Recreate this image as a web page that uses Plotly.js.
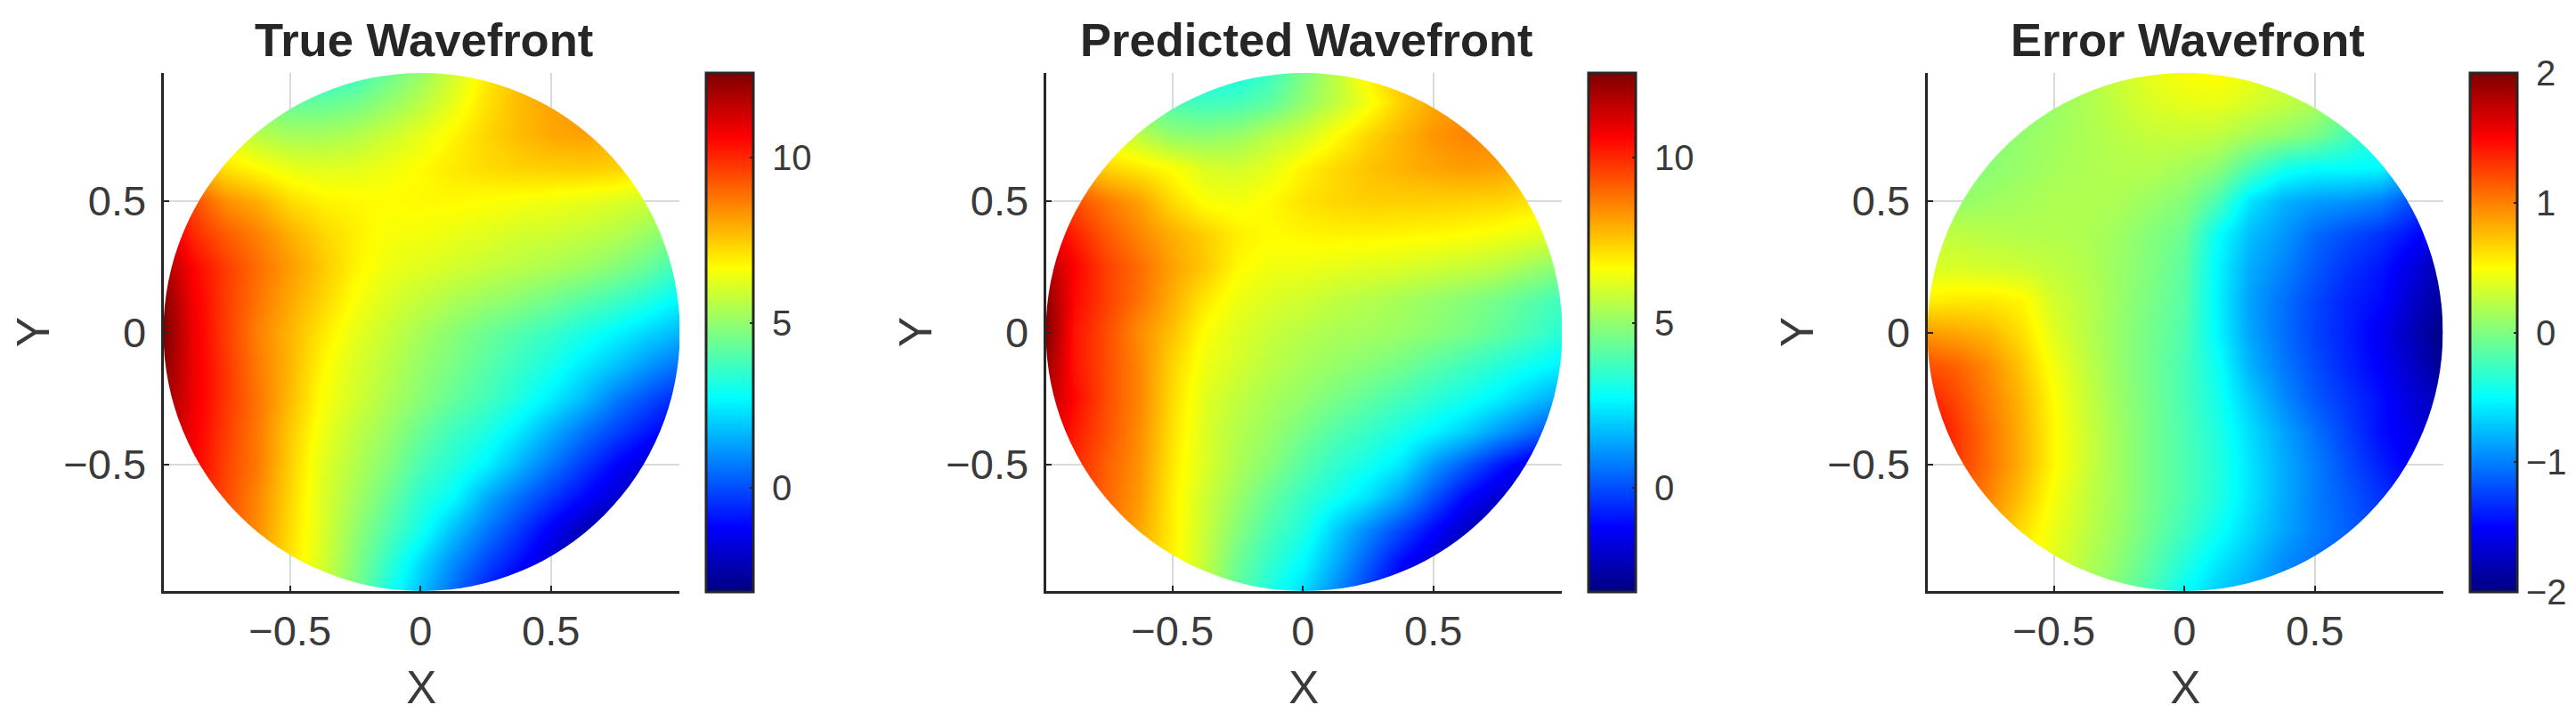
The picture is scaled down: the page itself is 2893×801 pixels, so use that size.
<!DOCTYPE html>
<html><head><meta charset="utf-8">
<script src="https://cdn.plot.ly/plotly-3.0.1.min.js"></script>
<style>html,body{margin:0;padding:0;background:#fff}</style></head>
<body><div id="chart" style="width:2893px;height:801px"></div>
<script>
const xGrid=[-1,-.875,-.75,-.625,-.5,-.375,-.25,-.125,0,.125,.25,.375,.5,.625,.75,.875,1];
const yGrid=[-1,-.875,-.75,-.625,-.5,-.375,-.25,-.125,0,.125,.25,.375,.5,.625,.75,.875,1];
const trueZ=[
[10.6,9.7,9.0,8.1,7.0,5.9,4.6,3.1,1.7,.4,-.8,-1.8,-2.8,-3.1,-3.15,-3.15,-3.15],
[11,10,9.2,8.2,7.1,6,4.8,3.5,2.2,1,-.1,-1,-2,-2.9,-3.1,-3.15,-3.15],
[11.4,10.3,9.4,8.4,7.2,6.1,5,4,3,1.8,.7,-.3,-1.3,-2.3,-3,-3.1,-3.15],
[11.7,10.5,9.5,8.5,7.3,6.1,5.3,4.4,3.4,2.75,1.5,.55,-.3,-1.1,-1.9,-2.6,-3],
[12,10.7,9.6,8.7,7.4,6.2,5.5,4.8,3.9,3.3,2.6,1.6,.65,-.3,-1.18,-1.9,-2.6],
[12,10.8,9.7,8.7,7.5,6.4,5.7,5.1,4.35,3.7,3.2,2.4,1.5,.6,-.2,-.9,-1.6],
[12.3,10.9,9.8,8.8,7.7,6.6,6,5.4,4.85,4.3,3.8,3.2,2.5,1.7,.7,0,-.7],
[12.6,10.9,9.8,8.7,7.8,6.75,6.1,5.6,5.05,4.6,4.1,3.6,3.1,2.4,1.8,1.1,.5],
[12.8,10.9,9.7,8.6,7.8,7,6.3,5.8,5.3,4.85,4.4,4,3.6,3.1,2.6,2.1,1.6],
[12.6,10.8,9.7,8.8,8,7.3,6.6,6.1,5.75,5.4,5.1,4.85,4.5,4.1,3.7,3.2,2.6],
[12.2,10.6,9.7,8.9,8.2,7.5,6.85,6.4,6.2,6,5.8,5.6,5.4,5.15,4.8,4.3,3.6],
[11.5,10,9.2,8.6,7.9,7.3,6.9,6.55,6.5,6.35,6.2,6,5.9,5.75,5.5,5.1,4.6],
[11,9.5,8.4,7.9,7.2,6.85,6.75,6.7,6.75,6.75,6.65,6.55,6.45,6.3,6.15,5.9,5.5],
[9,7.9,7.1,6.7,6.35,6.2,6.25,6.45,6.7,7,7.2,7.35,7.4,7.45,7.35,7.1,6.7],
[7.5,7,6.2,5.6,5.3,5.3,5.5,5.9,6.3,6.8,7.3,7.7,8,8.1,8,7.6,7],
[5.5,5.2,5,4.6,4.3,4.3,4.5,5,5.6,6.3,7.1,7.7,8.1,8.4,8.5,8.3,8],
[4.5,4.2,4,3.6,3.3,3.2,3.5,4.3,5,5.9,6.9,7.7,8.3,8.6,8.8,8.7,8.5]];
const predZ=[
[9.8,9.1,8.4,7.6,6.8,5.6,4.2,3.1,2.1,.9,-.4,-1.7,-2.8,-3.1,-3.15,-3.15,-3.15],
[10.2,9.4,8.6,7.8,6.9,5.7,4.4,3.5,2.7,1.5,.2,-1.1,-2,-2.9,-3.1,-3.15,-3.15],
[10.5,9.7,8.9,8,6.9,5.8,4.8,3.9,3.2,2,.9,-.1,-1.1,-2.1,-2.8,-3.1,-3.15],
[10.8,9.9,9,8.2,6.9,5.9,5.1,4.3,3.6,3,2.3,1.3,.1,-1.1,-1.9,-2.6,-3],
[11.1,10,9.1,8.3,7,6.1,5.4,4.8,4.1,3.5,3,2.4,1.15,.2,-.8,-1.6,-2.2],
[11.5,10.2,9.3,8.4,7.1,6.1,5.5,5.1,4.55,4,3.6,3.1,2.6,2,1.2,.5,-.2],
[11.9,10.5,9.4,8.5,7.2,6.2,5.7,5.3,5,4.6,4.2,3.8,3.4,3,2.5,1.9,1.3],
[12.4,10.3,9.4,8.5,7.3,6.4,6,5.6,5.3,5.05,4.8,4.5,4.1,3.7,3.3,2.9,2.5],
[12.8,10.3,9.4,8.4,7.6,6.6,6.15,5.8,5.55,5.35,5.25,5.1,4.85,4.6,4.2,3.8,3.3],
[12.6,10.5,9.6,8.8,7.9,7,6.4,6.1,5.95,5.7,5.5,5.3,5.05,4.8,4.5,4.1,3.7],
[12,10.6,9.6,8.9,8.1,7.5,6.75,6.45,6.4,6.3,6.2,6.1,5.95,5.8,5.6,5.2,4.8],
[11.2,10.1,9.2,8.5,7.9,7.4,6.9,6.7,6.8,6.85,6.85,6.8,6.75,6.65,6.5,6.3,6.2],
[10.2,9.4,8.7,8.1,7.2,6.6,6.5,6.75,7.1,7.3,7.4,7.4,7.4,7.35,7.3,7.1,6.8],
[8.8,8,7.3,7,6.65,6.1,6,6.3,6.85,7.25,7.6,7.85,8.05,8.2,8.1,7.8,7.4],
[7.5,6.8,6.3,5.6,5,4.9,5.1,5.6,6,6.65,7.3,7.8,8.3,8.55,8.5,8.3,8],
[6,5.5,5,4.4,3.9,3.7,3.8,4.2,5,5.7,6.5,7.4,8,8.4,8.6,8.5,8.3],
[5,4.5,4,3.5,3.2,3,3,3.6,4.6,5.6,6.9,7.7,8.2,8.5,8.6,8.5,8.3]];
const errZ=[
[1.1,.9,.7,.5,.32,.15,-.02,-.25,-.5,-.7,-.85,-1,-1.1,-1.2,-1.25,-1.3,-1.35],
[1.2,1,.8,.55,.38,.2,.05,-.15,-.37,-.58,-.75,-.95,-1.05,-1.15,-1.25,-1.3,-1.4],
[1.3,1.1,.88,.63,.42,.25,.1,-.08,-.25,-.45,-.65,-.85,-1,-1.12,-1.25,-1.35,-1.5],
[1.4,1.2,.98,.73,.46,.27,.12,-.05,-.2,-.37,-.6,-.82,-1,-1.15,-1.3,-1.45,-1.6],
[1.5,1.28,1.05,.8,.52,.3,.12,-.05,-.2,-.36,-.6,-.82,-1,-1.2,-1.38,-1.55,-1.7],
[1.6,1.3,1.05,.8,.52,.3,.12,-.05,-.2,-.38,-.63,-.85,-1.05,-1.25,-1.45,-1.6,-1.75],
[1.4,1.22,1,.78,.5,.28,.1,-.05,-.22,-.42,-.7,-.95,-1.15,-1.3,-1.45,-1.65,-1.8],
[1.2,1.12,.95,.72,.45,.25,.08,-.06,-.22,-.45,-.8,-1.02,-1.2,-1.36,-1.52,-1.72,-1.95],
[.9,.85,.78,.62,.38,.22,.08,-.05,-.19,-.52,-.85,-1.06,-1.24,-1.38,-1.55,-1.78,-2],
[.55,.58,.58,.53,.32,.22,.1,-.03,-.16,-.53,-.87,-1.05,-1.22,-1.37,-1.47,-1.7,-1.92],
[.35,.35,.33,.3,.25,.2,.1,0,-.14,-.52,-.82,-.98,-1.15,-1.3,-1.42,-1.62,-1.85],
[.25,.25,.22,.2,.2,.18,.12,.02,-.08,-.47,-.75,-.9,-1.08,-1.2,-1.3,-1.45,-1.6],
[.05,.08,.12,.15,.18,.19,.17,.1,.02,-.2,-.6,-.8,-.88,-.92,-1,-1.2,-1.6],
[0,.02,.05,.1,.15,.18,.2,.2,.14,.05,-.2,-.42,-.5,-.5,-.52,-.8,-1.2],
[-.1,0,.03,.08,.13,.18,.23,.27,.28,.25,.15,.07,-.02,-.22,-.4,-.7,-1],
[-.1,-.05,0,.02,.1,.18,.27,.36,.4,.42,.34,.27,.18,0,-.2,-.5,-.8],
[-.2,-.15,-.1,0,.1,.2,.3,.42,.5,.52,.45,.3,.1,-.1,-.3,-.5,-.7]];
const panelTitles=['True Wavefront','Predicted Wavefront','Error Wavefront'];
const xTicks=[-0.5,0,0.5], yTicks=[-0.5,0,0.5];
const trueRange=[-3.15,12.56], predRange=[-3.15,12.56], errRange=[-2,2];
const trueBarTicks=[0,5,10], errBarTicks=[-2,-1,0,1,2];
const trueBarLabels=['\u00a00','\u00a05','\u00a010'];
const errBarLabels=['\u22122','\u22121','\u00a00','\u00a01','\u00a02'];
const jet=[[0,'#00007f'],[.125,'#0000ff'],[.375,'#00ffff'],[.625,'#ffff00'],[.875,'#ff0000'],[1,'#7f0000']];

const W=2893,H=801,FONT='Arial, "Liberation Sans", sans-serif',INK='#3a3a3a';
const lefts=[183.5,1174.5,2164.5],pw=579.5,plotTop=82,plotBot=664,barOff=609,barW=53;
const zs=[trueZ,predZ,errZ],ranges=[trueRange,predRange,errRange],bars=[trueBarTicks,trueBarTicks,errBarTicks],barText=[trueBarLabels,trueBarLabels,errBarLabels];
const data=[],layout={width:W,height:H,margin:{l:0,r:0,t:0,b:0},paper_bgcolor:'#fff',plot_bgcolor:'#fff',showlegend:false,annotations:[]};
const axis=(ticks,title,standoff,lab,rng)=>({range:rng,tickmode:'array',tickvals:ticks,showgrid:true,gridcolor:'#d9d9d9',gridwidth:2,
  zeroline:false,showline:true,linecolor:'#262626',linewidth:3,ticks:'inside',ticklen:6,tickwidth:2,tickcolor:'#262626',
  tickfont:{family:FONT,size:47,color:INK},ticklabelstandoff:lab,title:{text:title,font:{family:FONT,size:51,color:INK},standoff:standoff}});
lefts.forEach((l,i)=>{
  const s=i?String(i+1):'';
  data.push({type:'heatmap',x:xGrid,y:yGrid,z:zs[i],zsmooth:'best',xaxis:'x'+s,yaxis:'y'+s,zmin:ranges[i][0],zmax:ranges[i][1],
    colorscale:jet,hoverinfo:'skip',
    colorbar:{x:(l+barOff)/W,xanchor:'left',xpad:0,y:(H-plotBot-1)/H,yanchor:'bottom',ypad:0,len:(plotBot+1-plotTop)/H,lenmode:'fraction',
      thickness:barW,thicknessmode:'pixels',outlinewidth:3,outlinecolor:'#262626',borderwidth:0,
      tickmode:'array',tickvals:bars[i],ticktext:barText[i],ticks:'inside',ticklen:5,tickwidth:2,tickcolor:'#262626',
      tickfont:{family:FONT,size:40,color:INK}}});
  layout['xaxis'+s]=Object.assign(axis(xTicks,'X',27,2,[-.985,.992]),{domain:[l/W,(l+pw)/W],anchor:'y'+s});
  layout['yaxis'+s]=Object.assign(axis(yTicks,'Y',0,7,[-.982,.987]),{domain:[1-plotBot/H,1-plotTop/H],anchor:'x'+s});
  layout.annotations.push({text:'<b>'+panelTitles[i]+'</b>',xref:'paper',yref:'paper',x:(l+pw/2+3)/W,y:1-44/H,xanchor:'center',yanchor:'middle',showarrow:false,font:{family:FONT,size:52.5,color:'#262626'}});
});
Plotly.newPlot('chart',data,layout,{staticPlot:true,displayModeBar:false}).then(gd=>{
  const svg=gd.querySelector('.main-svg');
  const NS='http://www.w3.org/2000/svg';
  const defs=svg.querySelector('defs')||svg.insertBefore(document.createElementNS(NS,'defs'),svg.firstChild);
  const cp=document.createElementNS(NS,'clipPath');cp.setAttribute('id','pupil');cp.setAttribute('clipPathUnits','objectBoundingBox');
  const c=document.createElementNS(NS,'circle');c.setAttribute('cx','.5');c.setAttribute('cy','.5');c.setAttribute('r','.5');
  cp.appendChild(c);defs.appendChild(cp);
  gd.querySelectorAll('.hm image').forEach(im=>im.setAttribute('clip-path','url(#pupil)'));
});
</script></body></html>
